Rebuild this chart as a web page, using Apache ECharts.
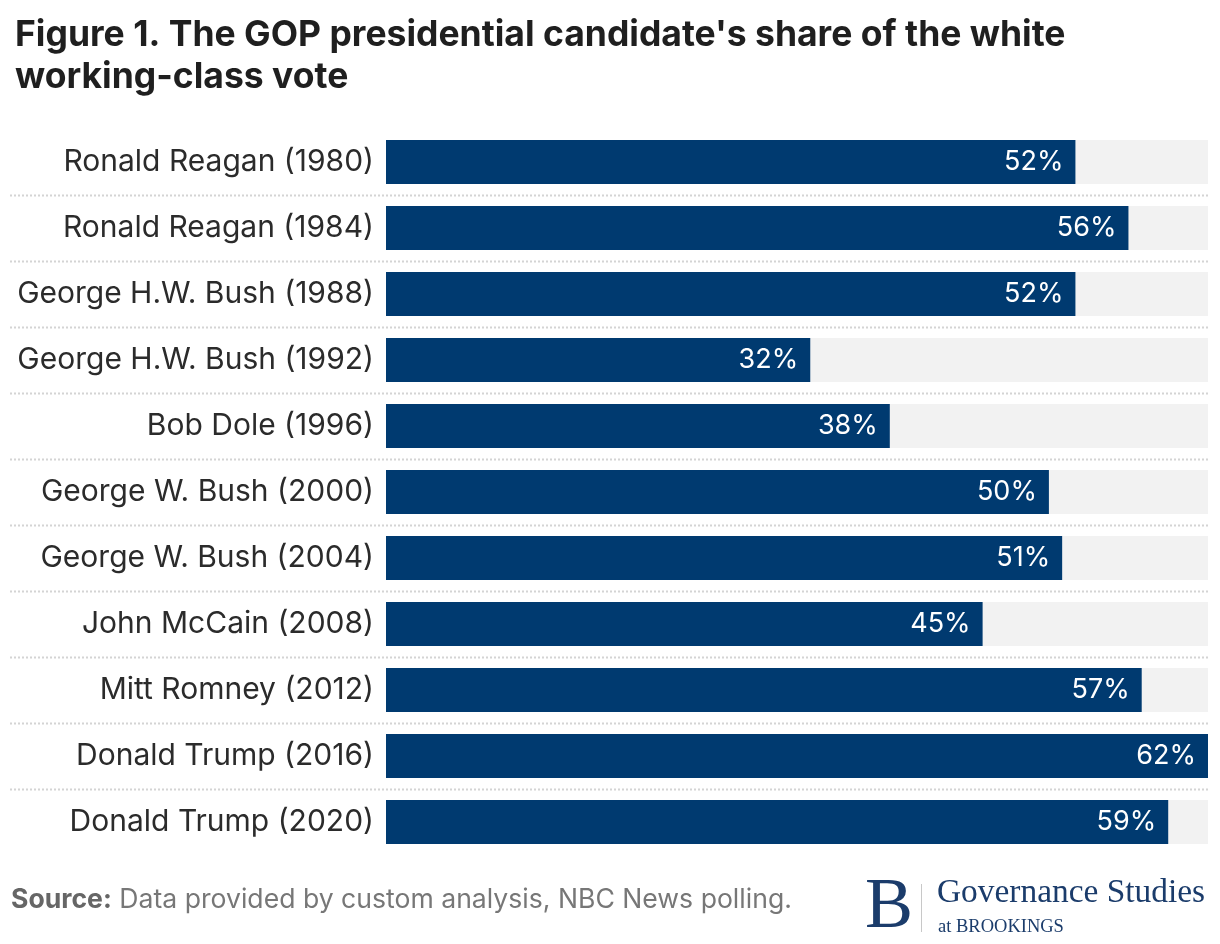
<!DOCTYPE html>
<html>
<head>
<meta charset="utf-8">
<script src="https://cdn.jsdelivr.net/npm/echarts@6/dist/echarts.min.js"></script>
<style>
html,body{margin:0;padding:0;background:#fff;}
#chart{width:1220px;height:944px;}
</style>
</head>
<body>
<div id="chart"></div>
<script>
const categories = [
  'Ronald Reagan (1980)', 'Ronald Reagan (1984)', 'George H.W. Bush (1988)',
  'George H.W. Bush (1992)', 'Bob Dole (1996)', 'George W. Bush (2000)',
  'George W. Bush (2004)', 'John McCain (2008)', 'Mitt Romney (2012)',
  'Donald Trump (2016)', 'Donald Trump (2020)'
];
const shares = [52, 56, 52, 32, 38, 50, 51, 45, 57, 62, 59];
const axisMax = 62;

const navy = '#003a70';
const chart = echarts.init(document.getElementById('chart'));
const separators = categories.slice(0, -1).map((_, i) => [0, i]);

chart.setOption({
  animation: false,
  textStyle: { fontFamily: 'Inter' },
  title: {
    text: "Figure 1. The GOP presidential candidate's share of the white\nworking-class vote",
    left: 10, top: 9,
    textStyle: { fontFamily: 'Inter', fontSize: 35.5, fontWeight: 700, color: '#1f1f1f', lineHeight: 42 }
  },
  grid: { left: 386, right: 12, top: 129, bottom: 89, containLabel: false },
  xAxis: { type: 'value', min: 0, max: axisMax, show: false },
  yAxis: {
    type: 'category', data: categories, inverse: true,
    axisLine: { show: false }, axisTick: { show: false }, splitLine: { show: false },
    axisLabel: { fontFamily: 'Inter', fontSize: 30, color: '#2b2b2b', margin: 12 }
  },
  series: [
    {
      type: 'custom', clip: false, z: 1, silent: true,
      data: separators,
      renderItem: function (params, api) {
        const pt = api.coord([0, api.value(1)]);
        const h = api.size([0, 1])[1];
        const y = Math.round(pt[1] + h / 2) + 0.5;
        return {
          type: 'line',
          shape: { x1: 10, y1: y, x2: params.coordSys.x + params.coordSys.width, y2: y },
          style: { stroke: '#d4d4d4', lineWidth: 2, lineDash: [2, 2] }
        };
      }
    },
    {
      type: 'bar', data: shares, barWidth: 44, z: 2,
      itemStyle: { color: navy },
      showBackground: true,
      backgroundStyle: { color: '#f2f2f2' },
      label: {
        show: true, position: 'insideRight', distance: 12,
        formatter: '{c}%', fontFamily: 'Inter', fontSize: 27, color: '#fff'
      }
    }
  ],
  graphic: [
    {
      type: 'text', left: 11, top: 886,
      style: {
        text: '{b|Source:} Data provided by custom analysis, NBC News polling.',
        fontFamily: 'Inter', fontSize: 26.6, fill: '#777',
        rich: { b: { fontFamily: 'Inter', fontSize: 26.6, fontWeight: 700, fill: '#666' } }
      }
    },
    {
      type: 'text', left: 865, top: 872,
      style: { text: 'B', fontFamily: 'Liberation Serif', fontSize: 72, fill: '#1b3c6b' }
    },
    {
      type: 'line', shape: { x1: 921.5, y1: 884, x2: 921.5, y2: 932 },
      style: { stroke: '#c8c8c8', lineWidth: 1 }
    },
    {
      type: 'text', left: 937, top: 877,
      style: { text: 'Governance Studies', fontFamily: 'Liberation Serif', fontSize: 33.4, fill: '#1b3c6b' }
    },
    {
      type: 'text', left: 938, top: 918,
      style: { text: 'at BROOKINGS', fontFamily: 'Liberation Serif', fontSize: 18.5, fill: '#1b3c6b' }
    }
  ]
});
</script>
</body>
</html>
